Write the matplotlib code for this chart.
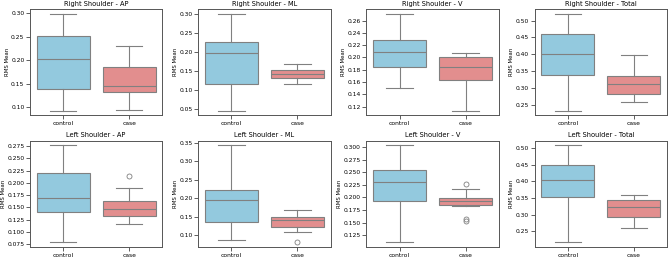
import matplotlib
matplotlib.use("Agg")
import matplotlib.pyplot as plt
from matplotlib.ticker import MultipleLocator, FormatStrFormatter

groups = ["control", "case"]
titles = [
    "Right Shoulder - AP", "Right Shoulder - ML", "Right Shoulder - V", "Right Shoulder - Total",
    "Left Shoulder - AP", "Left Shoulder - ML", "Left Shoulder - V", "Left Shoulder - Total",
]
# box statistics per panel: [whislo, q1, med, q3, whishi] for control, case
control_stats = [
    [0.092, 0.139, 0.203, 0.252, 0.299],
    [0.045, 0.116, 0.197, 0.226, 0.300],
    [0.151, 0.185, 0.2086, 0.229, 0.271],
    [0.232, 0.337, 0.401, 0.4605, 0.520],
    [0.079, 0.141, 0.1696, 0.2196, 0.2764],
    [0.0874, 0.136, 0.1944, 0.2223, 0.3428],
    [0.111, 0.1919, 0.2297, 0.2536, 0.3033],
    [0.217, 0.352, 0.404, 0.448, 0.508],
]
case_stats = [
    [0.094, 0.131, 0.145, 0.185, 0.231],
    [0.116, 0.131, 0.141, 0.153, 0.168],
    [0.1135, 0.164, 0.185, 0.201, 0.208],
    [0.259, 0.282, 0.312, 0.335, 0.398],
    [0.117, 0.1324, 0.146, 0.163, 0.1885],
    [0.109, 0.1225, 0.1405, 0.1495, 0.1684],
    [0.1833, 0.1853, 0.1926, 0.1992, 0.217],
    [0.259, 0.294, 0.323, 0.343, 0.358],
]
control_fliers = [[], [], [], [], [], [], [], []]
case_fliers = [[], [], [], [], [0.214], [0.081], [0.2257, 0.1567, 0.154], []]
tick_steps = [0.05, 0.05, 0.02, 0.05, 0.025, 0.05, 0.025, 0.05]
tick_fmts = ["%.2f", "%.2f", "%.2f", "%.2f", "%.3f", "%.2f", "%.3f", "%.2f"]

fills = ["#93c9de", "#e28e8e"]
line_col = "#808080"
lw = 0.8

fig, axes = plt.subplots(2, 4, figsize=(6.69, 2.58), dpi=100)
fig.subplots_adjust(left=30 / 669, right=667 / 669, top=1 - 9 / 258, bottom=1 - 247 / 258,
                    wspace=0.272, hspace=0.235)
for i, ax in enumerate(axes.flat):
    stats = []
    for st, fl, lab in ((control_stats[i], control_fliers[i], groups[0]),
                        (case_stats[i], case_fliers[i], groups[1])):
        stats.append(dict(whislo=st[0], q1=st[1], med=st[2], q3=st[3], whishi=st[4],
                          fliers=fl, label=lab))
    bp = ax.bxp(stats, positions=[0, 1], widths=0.8, patch_artist=True,
                boxprops=dict(edgecolor=line_col, linewidth=lw),
                whiskerprops=dict(color=line_col, linewidth=lw),
                capprops=dict(color=line_col, linewidth=lw),
                medianprops=dict(color=line_col, linewidth=lw),
                flierprops=dict(marker="o", markerfacecolor="none",
                                markeredgecolor=line_col, markersize=3.6,
                                markeredgewidth=0.6))
    for patch, c in zip(bp["boxes"], fills):
        patch.set_facecolor(c)
    ax.set_xlim(-0.5, 1.5)
    ax.set_xticks([0, 1])
    ax.set_xticklabels(groups)
    ax.yaxis.set_major_locator(MultipleLocator(tick_steps[i]))
    ax.yaxis.set_major_formatter(FormatStrFormatter(tick_fmts[i]))
    ax.set_title(titles[i], fontsize=4.8, pad=2.5)
    ax.set_ylabel("RMS Mean", fontsize=3.9, labelpad=1)
    ax.tick_params(labelsize=4.3, length=3, width=0.6, pad=1.0, color="#444444")
    for s in ax.spines.values():
        s.set_color("#555555")
        s.set_linewidth(0.7)

fig.savefig("out.png", dpi=100)
